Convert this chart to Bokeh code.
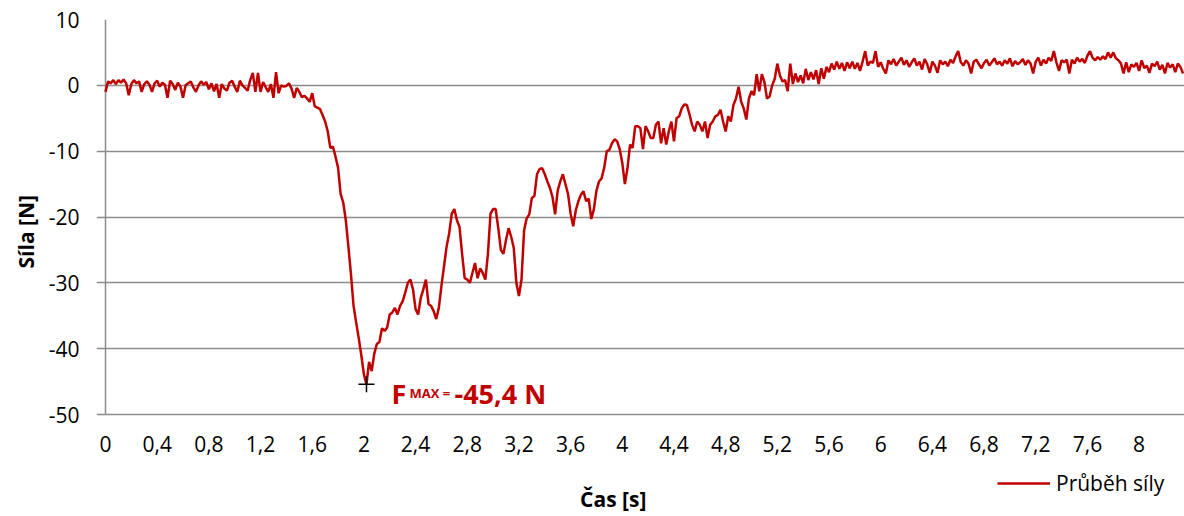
from bokeh.plotting import figure
from bokeh.models import (Range1d, FixedTicker, Label, Legend, LegendItem,
                          ColumnDataSource, Title)
from bokeh.core.properties import value
from bokeh.embed import file_html
from bokeh.resources import INLINE

# ---------------- data ----------------
sample_step = 0.02  # s

force = [
    -1.0, 0.6, 0.3, 0.8, 0.2, 0.8, 0.4, 0.9, 0.3, -1.5,
    0.2, 0.8, 0.3, 0.6, -1.0, 0.2, 0.6, 0.1, -1.0, 0.3,
    0.7, -0.2, 0.4, 0.1, -1.9, 0.7, 0.2, -0.7, 0.4, -0.2,
    -1.9, 0.0, 0.3, 0.6, -0.3, -1.0, 0.0, 0.6, 0.1, 0.5,
    -0.6, 0.3, -0.9, 0.2, -1.9, 0.2, -0.5, -0.8, 0.4, 0.7,
    -0.2, -1.0, 0.7, 0.0, -0.4, -0.8, 0.8, 1.9, -1.0, 1.9,
    -1.0, 0.5, -0.3, -1.0, 0.2, -1.9, 2.0, -1.2, 0.0, -0.2,
    -0.1, 0.3, -0.5, -1.9, -0.4, -1.0, -1.8, -1.6, -2.0, -2.5,
    -1.2, -3.2, -3.4, -3.6, -4.5, -5.5, -7.0, -9.5, -9.3, -10.8,
    -12.5, -16.5, -17.8, -20.5, -24.5, -28.7, -33.5, -36.0, -38.4, -41.0,
    -43.9, -45.4, -42.0, -43.4, -40.8, -39.3, -39.0, -36.9, -37.3, -36.8,
    -34.8, -34.5, -33.8, -34.8, -33.5, -32.8, -31.5, -30.0, -29.5, -31.0,
    -34.0, -34.8, -32.3, -31.0, -29.5, -33.2, -33.5, -34.3, -35.5, -33.8,
    -30.5, -27.5, -24.5, -22.5, -19.5, -18.8, -20.5, -21.5, -25.6, -29.3,
    -29.5, -30.0, -28.5, -27.0, -29.3, -27.8, -28.5, -29.5, -25.6, -19.5,
    -18.8, -18.8, -21.7, -25.0, -25.6, -23.5, -21.7, -23.0, -24.7, -30.0,
    -32.0, -29.5, -22.0, -20.2, -19.6, -17.1, -16.8, -13.5, -12.7, -12.6,
    -13.5, -14.6, -15.6, -17.0, -19.6, -16.0, -14.6, -13.5, -15.0, -16.5,
    -19.5, -21.4, -19.0, -17.6, -16.6, -16.1, -17.6, -17.2, -20.3, -18.8,
    -16.0, -14.6, -14.1, -12.5, -10.0, -9.8, -8.8, -8.2, -8.5, -9.7,
    -11.8, -15.0, -12.6, -9.0, -9.5, -6.2, -6.2, -6.5, -9.7, -6.2,
    -7.0, -8.0, -8.0, -6.0, -5.5, -8.8, -6.5, -9.0, -7.0, -5.5,
    -8.5, -5.0, -4.7, -3.5, -2.9, -3.0, -4.4, -6.0, -7.0, -5.5,
    -6.0, -7.0, -5.5, -8.0, -6.0, -5.5, -4.7, -4.5, -3.7, -5.5,
    -7.0, -4.7, -5.5, -3.0, -2.0, -0.2, -2.5, -3.5, -5.2, -2.0,
    -0.9, -1.5, 1.7, -0.9, 1.7, 0.5, -2.0, -1.7, 0.0, 1.0,
    3.3, 1.5, 0.6, 0.8, -0.9, 3.3, 0.2, 1.8, 0.5, 1.5,
    0.3, 2.5, 0.8, 2.0, 0.9, 2.3, 0.2, 2.6, 1.0, 2.8,
    2.0, 3.3, 2.4, 3.6, 2.5, 3.4, 2.2, 3.5, 2.6, 3.6,
    2.5, 3.4, 2.2, 3.6, 5.2, 3.0, 3.6, 3.4, 5.2, 2.8,
    3.5, 2.5, 1.8, 3.8, 3.2, 4.0, 3.0, 3.6, 4.2, 3.1,
    3.8, 2.8, 3.5, 4.1, 3.0, 3.6, 2.4, 4.0, 3.2, 1.9,
    3.6, 3.0, 1.9, 3.8, 3.2, 3.6, 2.9, 3.9, 3.4, 4.4,
    5.2, 3.5, 3.0, 3.8, 3.3, 1.8, 3.6, 3.9, 3.2, 2.6,
    3.4, 3.9, 3.0, 3.5, 4.1, 3.2, 3.6, 3.0, 3.8, 3.3,
    4.1, 2.9, 3.7, 3.2, 3.5, 4.0, 3.1, 3.8, 3.3, 1.8,
    3.6, 4.2, 3.0, 3.9, 3.3, 4.2, 3.7, 5.2, 3.5, 2.2,
    3.8, 3.5, 3.9, 1.8, 3.9, 3.3, 4.2, 3.6, 4.0, 3.4,
    4.5, 5.2, 4.2, 3.8, 4.3, 3.9, 4.4, 4.0, 5.0, 4.2,
    5.0, 4.1, 3.8, 3.3, 1.8, 3.5, 2.0, 3.2, 2.8, 3.4,
    2.2, 3.8, 2.6, 3.0, 1.9, 3.3, 2.9, 3.6, 2.4, 3.1,
    1.8, 3.4, 2.7, 3.2, 2.0, 3.3, 2.8, 1.8,
]
time = [round(i * sample_step, 2) for i in range(len(force))]

x_ticks = [0, 0.4, 0.8, 1.2, 1.6, 2.0, 2.4, 2.8, 3.2, 3.6, 4.0,
           4.4, 4.8, 5.2, 5.6, 6.0, 6.4, 6.8, 7.2, 7.6, 8.0]
x_tick_labels = ["0", "0,4", "0,8", "1,2", "1,6", "2", "2,4", "2,8", "3,2",
                 "3,6", "4", "4,4", "4,8", "5,2", "5,6", "6", "6,4", "6,8",
                 "7,2", "7,6", "8"]
y_ticks = [-50, -40, -30, -20, -10, 0, 10]
y_tick_labels = ["-50", "-40", "-30", "-20", "-10", "0", "10"]

series_name = "Průběh síly"
x_title = "Čas [s]"
y_title = "Síla [N]"

RED = "#C00000"
GRID = "#8c8c8c"
FONT = "Open Sans"

# ---------------- geometry ----------------
FRAME_LEFT = 96      # grid lines start here (they also act as the y ticks)
AXIS_X = 105         # pixel column of t = 0
PX_PER_S = 129.2
X_START = -(AXIS_X - FRAME_LEFT) / PX_PER_S
X_END = X_START + (1184 - FRAME_LEFT) / PX_PER_S

Y_MIN, Y_MAX = y_ticks[0], y_ticks[-1]
PX_PER_N = (414 - 19) / (Y_MAX - Y_MIN)
Y_START = Y_MIN - (516 - 414) / PX_PER_N   # room under the -50 line for labels

# ---------------- figure ----------------
p = figure(width=1184, height=516, output_backend="svg", toolbar_location=None,
           x_range=Range1d(X_START, X_END), y_range=Range1d(Y_START, Y_MAX),
           min_border_left=FRAME_LEFT, min_border_right=0, min_border_top=19,
           min_border_bottom=0)
p.outline_line_color = None
p.background_fill_color = "white"
p.border_fill_color = "white"

p.xgrid.visible = False
p.ygrid.ticker = FixedTicker(ticks=y_ticks)
p.ygrid.grid_line_color = GRID
p.ygrid.grid_line_width = 1.5

# y axis (labels only; the grid lines stick out as ticks)
ya = p.yaxis[0]
ya.ticker = FixedTicker(ticks=y_ticks)
ya.bounds = (Y_MIN, Y_MAX)
ya.major_label_overrides = {t: l for t, l in zip(y_ticks, y_tick_labels)}
ya.axis_line_color = None
ya.major_tick_line_color = None
ya.major_tick_out = 0
ya.major_tick_in = 0
ya.minor_tick_line_color = None
ya.major_label_standoff = 17
ya.major_label_text_font = FONT
ya.major_label_text_font_size = "21px"
ya.major_label_text_color = "black"

# vertical axis line at t = 0
p.segment(x0=[x_ticks[0]], y0=[Y_MIN], x1=[x_ticks[0]], y1=[Y_MAX],
          line_color=GRID, line_width=1.5)

# x axis labels drawn under the -50 line
p.xaxis.visible = False
p.text(x=x_ticks, y=[Y_MIN] * len(x_ticks), text=x_tick_labels,
       text_font=value(FONT), text_font_size=value("21px"),
       text_color="black", text_align="center", text_baseline="middle",
       y_offset=29)

# series
src = ColumnDataSource(data=dict(t=time, f=force))
r = p.line("t", "f", source=src, line_color=RED, line_width=2.5)

# minimum marker + annotation
i_min = min(range(len(force)), key=lambda i: force[i])
t_min, f_min = time[i_min], force[i_min]
p.scatter([t_min], [f_min], marker="cross", size=16, line_color="black",
          line_width=1.5)

val_txt = f"{f_min:.1f}".replace(".", ",") + " N"
p.add_layout(Label(x=t_min, y=f_min, x_offset=25, y_offset=-9, text="F",
                   text_color=RED, text_font=FONT, text_font_style="bold",
                   text_font_size="27px", text_baseline="alphabetic"))
p.add_layout(Label(x=t_min, y=f_min, x_offset=43, y_offset=-9, text="MAX =",
                   text_color=RED, text_font=FONT, text_font_style="bold",
                   text_font_size="13px", text_baseline="alphabetic"))
p.add_layout(Label(x=t_min, y=f_min, x_offset=88, y_offset=-9, text=val_txt,
                   text_color=RED, text_font=FONT, text_font_style="bold",
                   text_font_size="27px", text_baseline="alphabetic"))

# x axis title
p.add_layout(Label(x=3.93, y=Y_MIN, y_offset=-84, text=x_title,
                   text_align="center", text_baseline="middle",
                   text_font=FONT, text_font_style="bold",
                   text_font_size="21px", text_color="black"))

# legend (bottom right, below the plot area)
legend = Legend(items=[LegendItem(label=series_name, renderers=[r])],
                location=(997 - FRAME_LEFT, 19), padding=0, margin=0,
                spacing=0, border_line_color=None, background_fill_alpha=0,
                glyph_width=53, glyph_height=20, label_standoff=6,
                label_text_font=FONT, label_text_font_size="21px",
                label_text_color="black")
p.add_layout(legend)

# y axis title
p.add_layout(Title(text=y_title, align="left", offset=248, standoff=10,
                   vertical_align="middle",
                   text_font=FONT, text_font_style="bold",
                   text_font_size="21px", text_color="black"), "left")

open("out.html", "w").write(file_html(p, INLINE))
